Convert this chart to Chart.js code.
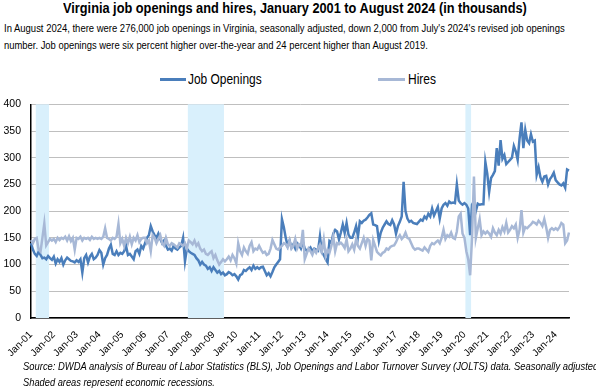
<!DOCTYPE html>
<html>
<head>
<meta charset="utf-8">
<script src="https://cdn.jsdelivr.net/npm/chart.js@4"></script>
<style>
  html, body { margin: 0; padding: 0; background: #fff; }
  body { width: 596px; height: 389px; position: relative; overflow: hidden;
         font-family: "Liberation Sans Narrow", "Arial Narrow", "Liberation Sans", Arial, sans-serif; color: #000; }
  .abs { position: absolute; white-space: nowrap; transform-origin: 0 0; }
  #title { left: 63px; top: 0px; font-weight: bold; font-size: 14px; line-height: 16px; }
  .sub { left: 4px; font-size: 11.5px; line-height: 17px; }
  .leg-line { position: absolute; height: 3px; }
  .leg-text { font-size: 15px; line-height: 17px; top: 70px; }
  .foot { left: 23px; font-size: 11px; font-style: italic; line-height: 16px; }
  #chart { position: absolute; left: 0; top: 88px; }
</style>
</head>
<body>
<div id="title" class="abs" data-w="464">Virginia job openings and hires, January 2001 to August 2024 (in thousands)</div>
<div class="abs sub" style="top:20px" data-w="561">In August 2024, there were 276,000 job openings in Virginia, seasonally adjusted, down 2,000 from July's 2024's revised job openings</div>
<div class="abs sub" style="top:37px" data-w="424">number. Job openings were six percent higher over-the-year and 24 percent higher than August 2019.</div>

<div class="leg-line" style="left:160px; top:78px; width:26px; background:#4a7ebb;"></div>
<div class="abs leg-text" style="left:188px;" data-w="74">Job Openings</div>
<div class="leg-line" style="left:378px; top:78px; width:27px; background:#a7b8d6;"></div>
<div class="abs leg-text" style="left:408px;" data-w="28">Hires</div>

<canvas id="chart" width="596" height="272"></canvas>

<div class="abs foot" style="top:358px" data-w="575">Source: DWDA analysis of Bureau of Labor Statistics (BLS), Job Openings and Labor Turnover Survey (JOLTS) data. Seasonally adjusted</div>
<div class="abs foot" style="top:374px" data-w="192">Shaded areas represent economic recessions.</div>

<script>
'use strict';

// Month names used for the category labels (Jan-01 ... Aug-24)
const monthNames = ['Jan','Feb','Mar','Apr','May','Jun','Jul','Aug','Sep','Oct','Nov','Dec'];
const firstYear = 2001;
const lastYear  = 2024;
const lastMonth = 8;   // August 2024

// Job openings, thousands, monthly Jan 2001 - Aug 2024
const jobOpenings = [
  140, 128, 120, 116, 124, 118, 112, 113, 110, 116, 112, 109, // 2001
  115, 102, 110, 105, 112, 100, 108, 113, 110, 107, 106, 104, // 2002
  108, 105, 110,  85, 112, 118, 104, 115, 120, 110, 113, 118, // 2003
  127, 122, 100, 112, 118, 130, 137, 120, 118, 125, 118, 122, // 2004
  120, 125, 135, 118, 120, 115, 110, 125, 128, 120, 135, 130, // 2005
  140, 150, 155, 172, 162, 155, 150, 158, 148, 140, 145, 135, // 2006
  128, 130, 126, 135, 130, 128, 132, 135, 150, 106, 130, 125, // 2007
  122, 120, 118, 112, 108, 100, 105, 100,  98,  92,  95,  88, // 2008
   95,  90,  85,  88,  82,  85,  80,  82,  86,  84,  80,  82, // 2009
   78,  72,  80,  82,  90,  88,  92,  95,  90,  98,  92,  95, // 2010
   92,  95,  96,  88,  80,  84,  78,  86,  95, 100, 105, 110, // 2011
  185, 170, 150, 135, 145, 132, 138, 130, 140, 136, 130, 142, // 2012
  130, 126, 128, 132, 125, 130, 128, 126, 153, 122, 118, 110, // 2013
  104, 144, 141, 158, 165, 162, 147, 160, 175, 159, 178, 156, // 2014
  150, 150, 160, 172, 153, 181, 178, 182, 184, 188, 193, 196, // 2015
  175, 174, 172, 144, 160, 169, 175, 181, 176, 174, 183, 175, // 2016
  158, 172, 180, 190, 255, 200, 186, 180, 182, 178, 177, 176, // 2017
  180, 184, 182, 190, 186, 195, 190, 205, 192, 200, 208, 186, // 2018
  205, 212, 215, 210, 218, 215, 216, 215, 250, 220, 215, 212, // 2019
  215, 212, 205, 155, 212, 218, 200, 214, 212, 213, 213, 292, // 2020
  270, 236, 262, 268, 275, 318, 285, 333, 298, 305, 288, 292, // 2021
  296, 300, 322, 312, 296, 336, 366, 318, 352, 332, 327, 344, // 2022
  330, 332, 268, 282, 263, 255, 265, 266, 250, 260, 265, 272, // 2023
  258, 254, 250, 248, 252, 244, 278, 276                      // 2024
];

// Hires, thousands, monthly Jan 2001 - Aug 2024
const hires = [
  146, 140, 148, 150, 128, 124, 150, 177, 136, 142, 148, 145, // 2001
  148, 142, 150, 146, 150, 148, 152, 145, 153, 144, 150, 128, // 2002
  150, 148, 152, 145, 150, 148, 150, 146, 152, 148, 150, 148, // 2003
  150, 148, 152, 168, 150, 148, 145, 150, 148, 152, 176, 140, // 2004
  148, 135, 150, 140, 152, 138, 150, 145, 155, 142, 148, 150, // 2005
  150, 140, 145, 125, 155, 150, 140, 148, 155, 140, 135, 150, // 2006
  138, 135, 140, 138, 135, 132, 140, 138, 135, 140, 130, 145, // 2007
  142, 138, 145, 135, 140, 130, 125, 128, 120, 118, 122, 125, // 2008
  112, 118, 108, 100, 105, 110, 106, 110, 115, 108, 118, 112, // 2009
  102, 140, 125, 118, 132, 125, 120, 135, 142, 125, 130, 128, // 2010
  135, 128, 122, 124, 118, 120, 130, 146, 138, 130, 128, 132, // 2011
  135, 140, 138, 132, 145, 130, 135, 148, 130, 138, 135, 165, // 2012
  110, 120, 130, 125, 118, 128, 122, 130, 137, 125, 147, 116, // 2013
  128, 122, 135, 153, 125, 140, 138, 141, 137, 131, 147, 125, // 2014
  130, 138, 128, 147, 135, 130, 140, 150, 135, 148, 145, 108, // 2015
  146, 135, 124, 120, 117, 122, 124, 130, 128, 133, 135, 136, // 2016
  142, 150, 155, 148, 152, 160, 150, 148, 140, 132, 128, 130, // 2017
  130, 128, 126, 132, 128, 124, 135, 140, 138, 142, 145, 140, // 2018
  150, 165, 148, 155, 152, 160, 150, 148, 162, 190, 195, 158, // 2019
  150, 125, 110,  80, 150, 265, 150, 168, 185, 155, 162, 158, // 2020
  162, 158, 152, 168, 160, 155, 165, 158, 170, 162, 178, 160, // 2021
  165, 172, 168, 175, 150, 165, 202, 160, 170, 168, 172, 175, // 2022
  180, 178, 175, 182, 178, 172, 185, 170, 150, 165, 168, 165, // 2023
  168, 165, 170, 178, 175, 140, 145, 160                      // 2024
];

// Recession periods (shaded), as category labels
const recessions = [
  ['Apr-01', 'Oct-01'],
  ['Dec-07', 'Jun-09'],
  ['Feb-20', 'Apr-20'],
];

// y axis ticks
const yTicks = [0, 50, 100, 150, 200, 250, 300, 350, 400];

// build the category labels
const labels = [];
for (let y = firstYear; y <= lastYear; y++) {
  const last = y === lastYear ? lastMonth : 12;
  for (let m = 0; m < last; m++) {
    labels.push(monthNames[m] + '-' + String(y).slice(2));
  }
}

// squeeze the html text to the narrow widths of the original
document.querySelectorAll('[data-w]').forEach(el => {
  const w = +el.dataset.w;
  el.style.transform = `scaleX(${w / el.scrollWidth})`;
});

const FONT = '"Liberation Sans Narrow", "Arial Narrow", "Liberation Sans", Arial, sans-serif';

/* ── recession shading drawn through the x scale ── */
const recessionShade = {
  id: 'recessionShade',
  beforeDatasetsDraw(chart) {
    const { ctx, chartArea, scales: { x } } = chart;
    const step = x.getPixelForValue(1) - x.getPixelForValue(0);
    ctx.save();
    ctx.fillStyle = '#d9f0fc';
    recessions.forEach(([a, b]) => {
      const x1 = x.getPixelForValue(labels.indexOf(a)) - step / 2;
      const x2 = x.getPixelForValue(labels.indexOf(b)) + step / 2;
      ctx.fillRect(x1, chartArea.top, x2 - x1, chartArea.bottom - chartArea.top);
    });
    ctx.restore();
  },
};

new Chart(document.getElementById('chart'), {
  type: 'line',
  data: {
    labels,
    datasets: [
      {
        label: 'Job Openings',
        data: jobOpenings,
        borderColor: '#4a7ebb',
        borderWidth: 2.5,
        pointRadius: 0,
        tension: 0,
        order: 1,
      },
      {
        label: 'Hires',
        data: hires,
        borderColor: '#a7b8d6',
        borderWidth: 2.5,
        pointRadius: 0,
        tension: 0,
        order: 0,
      },
    ],
  },
  options: {
    responsive: false,
    animation: false,
    devicePixelRatio: 1,
    layout: { padding: { top: 2, right: 27, left: 0, bottom: 0 } },
    plugins: {
      legend: { display: false },
      tooltip: { enabled: false },
    },
    scales: {
      x: {
        offset: false,
        grid: { display: false },
        border: { color: '#000', width: 1.5 },
        ticks: {
          autoSkip: false,
          maxRotation: 45,
          minRotation: 45,
          padding: 3,
          color: '#000',
          font: { family: FONT, size: 10 },
          callback: (v, i) => (i % 12 === 0 ? labels[i] : null),
        },
        afterFit: s => { s.height = 42; },
      },
      y: {
        min: 0,
        max: 400,
        afterBuildTicks: s => { s.ticks = yTicks.map(v => ({ value: v })); },
        grid: { color: '#bfbfbf', lineWidth: 1, drawTicks: false },
        border: { color: '#000', width: 1.5 },
        ticks: {
          padding: 10,
          color: '#000',
          font: { family: FONT, size: 10.5 },
        },
        afterFit: s => { s.width = 31; },
      },
    },
  },
  plugins: [recessionShade],
});
</script>
</body>
</html>
